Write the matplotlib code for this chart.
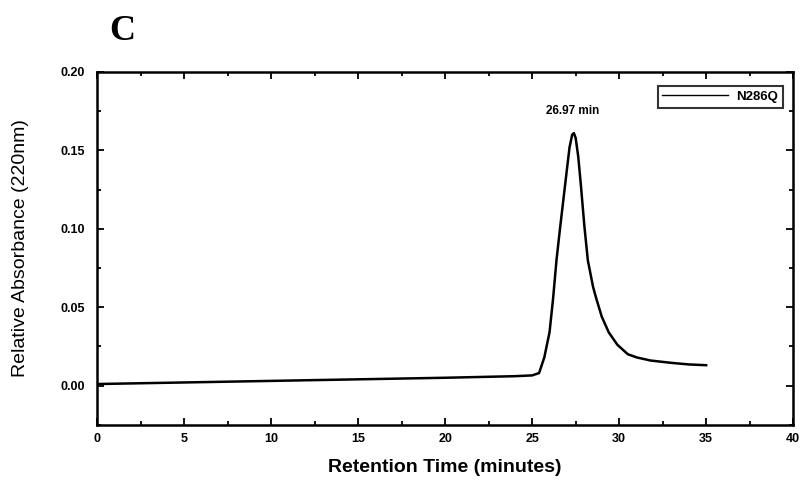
import numpy as np
import matplotlib
matplotlib.use('Agg')
import matplotlib.pyplot as plt
from matplotlib.ticker import MultipleLocator

# values (minutes, absorbance at 220 nm)
time_min = [0, 5, 10, 15, 20, 24, 25.0, 25.4, 25.7, 26.0, 26.2, 26.4, 26.6, 26.8,
            27.0, 27.15, 27.3, 27.4, 27.5, 27.65, 27.8, 28.0, 28.2, 28.5, 28.7,
            29.0, 29.4, 29.9, 30.5, 31.0, 31.8, 33.0, 34.0, 35.0]
absorbance = [0.001, 0.002, 0.003, 0.004, 0.005, 0.006, 0.0065, 0.008, 0.018, 0.034,
              0.055, 0.080, 0.100, 0.119, 0.138, 0.152, 0.160, 0.161, 0.158, 0.146,
              0.128, 0.102, 0.080, 0.063, 0.055, 0.044, 0.034, 0.026, 0.020, 0.018,
              0.016, 0.0145, 0.0135, 0.013]
series_name = "N286Q"
peak_label = "26.97 min"
panel_letter = "C"

plt.rcParams['font.family'] = ['Liberation Sans', 'DejaVu Sans']

fig = plt.figure(figsize=(8.02, 4.8), dpi=100)
ax = fig.add_axes([0.121, 0.115, 0.868, 0.735])

ax.plot(time_min, absorbance, color='black', lw=1.8, label=series_name,
        solid_joinstyle='round')

ax.set_xlim(0, 40)
ax.set_ylim(-0.025, 0.20)
ax.xaxis.set_major_locator(MultipleLocator(5))
ax.xaxis.set_minor_locator(MultipleLocator(2.5))
ax.yaxis.set_major_locator(MultipleLocator(0.05))
ax.yaxis.set_minor_locator(MultipleLocator(0.025))
ax.xaxis.set_major_formatter(plt.FuncFormatter(lambda v, p: f"{v:.0f}"))
ax.yaxis.set_major_formatter(plt.FuncFormatter(lambda v, p: f"{v:.2f}"))
ax.tick_params(which='both', direction='in', top=True, right=True, width=1.3)
ax.tick_params(which='major', length=5, labelsize=9)
ax.tick_params(axis='y', which='major', pad=9)
ax.tick_params(axis='x', which='major', pad=6)
ax.tick_params(which='minor', length=3)
for lab in ax.get_xticklabels() + ax.get_yticklabels():
    lab.set_fontweight('bold')
for s in ax.spines.values():
    s.set_linewidth(1.8)

ax.set_xlabel("Retention Time (minutes)", fontsize=14, fontweight='semibold', labelpad=10)
ax.set_ylabel("Relative Absorbance (220nm)", fontsize=14, labelpad=22)

ax.text(27.3, 0.171, peak_label, ha='center', va='bottom', fontsize=8.5, fontweight='bold')

leg = ax.legend(loc='upper right', bbox_to_anchor=(0.985, 0.96), fontsize=9.5,
                frameon=True, fancybox=False, handlelength=5, borderpad=0.35,
                borderaxespad=0, handletextpad=0.6)
leg.get_frame().set_edgecolor('black')
leg.get_frame().set_linewidth(1.5)
for t in leg.get_texts():
    t.set_fontweight('bold')
for h in leg.get_lines():
    h.set_linewidth(1.0)

fig.text(0.153, 0.935, panel_letter, fontsize=26, fontweight='bold', family='Liberation Serif',
         ha='center', va='center')

fig.savefig('out.png', dpi=100)
